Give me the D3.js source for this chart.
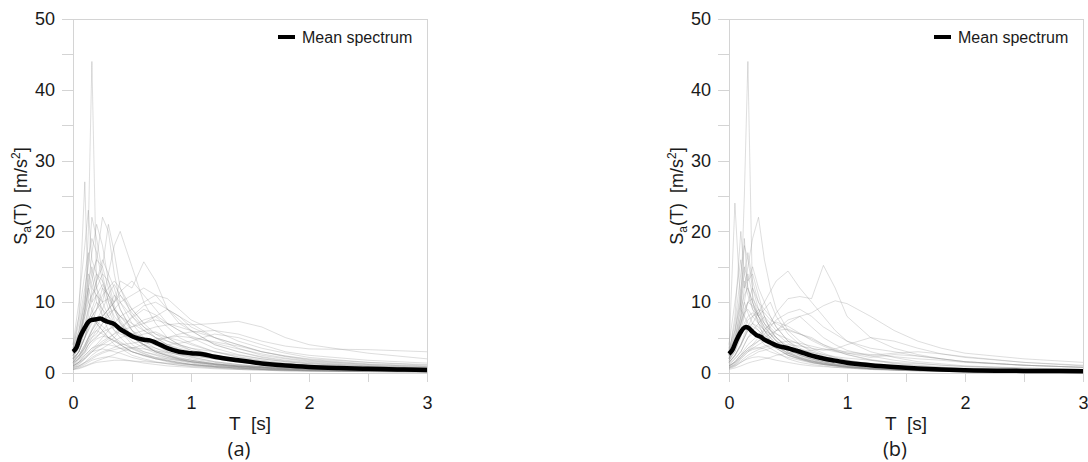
<!DOCTYPE html>
<html>
<head>
<meta charset="utf-8">
<script src="https://cdn.jsdelivr.net/npm/d3@7"></script>
<style>
  body { margin: 0; background: #fff; }
  svg text { font-family: "Liberation Sans", Arial, sans-serif; fill: #1a1a1a; }
  .axis path, .axis line { stroke: #d4d4d4; shape-rendering: crispEdges; }
  .frame { stroke: #d4d4d4; shape-rendering: crispEdges; }
  .record { fill: none; stroke: #8a8a8a; stroke-width: 0.7; stroke-opacity: 0.4; }
  .mean { fill: none; stroke: #000; stroke-width: 4.5; stroke-linejoin: round; }
  .caption { font-family: "Open Sans", sans-serif; }
</style>
</head>
<body>
<div id="chart"></div>
<script>
var PERIODS = [0, 0.05, 0.1, 0.13, 0.16, 0.2, 0.25, 0.3, 0.35, 0.4, 0.5, 0.6, 0.7, 0.8, 0.9, 1.0, 1.2, 1.4, 1.6, 1.8, 2.0, 2.5, 3.0];

var Y_TICKS = [0, 10, 20, 30, 40, 50];
var X_TICKS = [0, 1, 2, 3];

// Panel (a) records, Sa in m/s2
var RECORDS_A = [
  [2.5, 4, 9, 20, 44, 12, 8, 6, 5, 4, 3, 2.5, 2, 1.6, 1.3, 1.1, 0.8, 0.6, 0.5, 0.4, 0.35, 0.25, 0.2],
  [3, 8, 27, 10, 9, 7, 6, 5, 4.5, 4, 3, 2.5, 2, 1.8, 1.5, 1.2, 0.9, 0.7, 0.5, 0.4, 0.3, 0.2, 0.15],
  [4, 10, 18, 23, 16, 14, 12, 9, 7, 6, 4, 3, 2.5, 2, 1.7, 1.4, 1, 0.8, 0.6, 0.5, 0.4, 0.3, 0.2],
  [3.5, 7, 12, 15, 22, 19, 14, 10, 8, 7, 5, 4, 3, 2.5, 2, 1.8, 1.3, 1, 0.8, 0.6, 0.5, 0.35, 0.3],
  [2, 4, 8, 11, 13, 16, 22, 20, 14, 10, 7, 5, 4, 3, 2.6, 2.2, 1.6, 1.2, 0.9, 0.7, 0.6, 0.4, 0.3],
  [3, 5, 9, 12, 10, 13, 15, 21, 17, 12, 8, 6, 5, 4, 3.5, 3, 2.2, 1.6, 1.2, 1, 0.8, 0.6, 0.4],
  [1.5, 3, 5, 7, 9, 11, 10, 14, 18, 20, 15, 10, 7, 5, 4, 3.5, 2.5, 2, 1.5, 1.2, 1, 0.7, 0.5],
  [2, 3, 5, 6, 8, 9, 12, 11, 10, 13, 12, 15.7, 13, 9, 7, 6, 4, 3, 2.2, 1.7, 1.4, 1, 0.7],
  [1.2, 2, 3, 4, 5, 6, 7, 8, 9, 10, 11, 12, 11, 9, 8, 7, 5, 4, 3, 2.3, 1.8, 1.2, 0.9],
  [1, 1.5, 2.5, 3, 3.5, 4, 5, 6, 7, 8, 9, 10, 11, 10.5, 9, 7.5, 6, 4.5, 3.5, 2.8, 2.2, 1.5, 1.1],
  [0.8, 1, 1.5, 2, 2.5, 3, 3.5, 4, 4.5, 5, 5.5, 6, 6.5, 6.8, 7, 6.8, 7, 7.3, 6.5, 5, 4, 2.8, 2],
  [0.5, 0.7, 1, 1.2, 1.4, 1.7, 2, 2.3, 2.6, 3, 3.5, 4, 4.5, 5, 5.5, 5.8, 6, 5.5, 4.5, 3.8, 3.4, 3.3, 3.0],
  [2.5, 4, 7, 9, 10, 11, 9, 8, 7, 6, 5, 4, 3.5, 3, 2.5, 2, 1.5, 1.1, 0.9, 0.7, 0.6, 0.4, 0.3],
  [2, 3, 6, 8, 12, 14, 13, 11, 9, 8, 6, 4.5, 3.5, 2.8, 2.2, 1.8, 1.3, 1, 0.8, 0.6, 0.5, 0.35, 0.25],
  [1.8, 2.5, 4, 5, 6, 7, 8, 9, 10, 11, 9, 7, 8, 9, 7.5, 6, 4, 3, 2.3, 1.8, 1.5, 1, 0.7],
  [1.5, 2, 3, 4, 4.5, 5, 6, 7, 6.5, 6, 5.5, 5, 4.5, 4, 4.2, 4.5, 5.5, 5, 4, 3, 2.5, 1.8, 1.4],
  [1, 1.5, 2, 2.5, 3, 3.5, 4, 4.5, 5, 6, 8, 9.5, 10, 9, 8, 6.5, 5, 3.5, 2.5, 2, 1.6, 1.1, 0.8],
  [3, 6, 10, 13, 15, 12, 10, 8, 6, 5, 3.5, 2.8, 2.2, 1.8, 1.5, 1.2, 0.9, 0.7, 0.5, 0.4, 0.35, 0.25, 0.2],
  [2, 3, 5, 7, 8, 7, 6, 5, 4, 3.5, 2.5, 2, 1.6, 1.3, 1.1, 0.9, 0.7, 0.5, 0.4, 0.3, 0.25, 0.2, 0.15],
  [1.5, 2.5, 4, 5, 5.5, 6, 5.5, 5, 4.5, 4, 3, 2.4, 2, 1.7, 1.4, 1.2, 0.9, 0.7, 0.5, 0.4, 0.35, 0.25, 0.2],
  [1, 1.5, 2.5, 3, 3.5, 3.8, 4, 4, 3.8, 3.5, 3, 2.5, 2.2, 2, 1.8, 1.6, 1.3, 1, 0.8, 0.6, 0.5, 0.4, 0.3],
  [0.8, 1.2, 2, 2.5, 3, 3.2, 3.4, 3.2, 3, 2.8, 2.2, 1.8, 1.5, 1.3, 1.1, 1, 0.8, 0.6, 0.5, 0.4, 0.3, 0.2, 0.15],
  [0.5, 0.8, 1.2, 1.5, 1.8, 2, 2.2, 2.3, 2.2, 2, 1.7, 1.4, 1.2, 1, 0.9, 0.8, 0.6, 0.5, 0.4, 0.3, 0.25, 0.2, 0.15],
  [3.5, 6, 11, 16, 19, 17, 13, 10, 7.5, 6, 4.5, 3.5, 2.8, 2.2, 1.8, 1.5, 1.1, 0.8, 0.6, 0.5, 0.4, 0.3, 0.2],
  [2.5, 4, 6, 9, 11, 13, 16, 14, 12, 9, 6, 5, 4.5, 3.5, 2.8, 2.3, 1.6, 1.2, 0.9, 0.7, 0.6, 0.4, 0.3],
  [2, 3, 5, 6, 7, 9, 11, 12, 13, 12, 9, 7, 5.5, 4.5, 3.8, 3.2, 2.5, 2, 1.5, 1.2, 1, 0.7, 0.5],
  [1.5, 2.5, 3.5, 4.5, 5.5, 6.5, 8, 9, 10, 11.5, 13, 11, 9, 7, 6, 5, 3.5, 2.6, 2, 1.6, 1.3, 0.9, 0.7],
  [1, 1.5, 2.2, 2.8, 3.2, 3.8, 4.5, 5, 5.5, 6, 6.5, 7, 7.5, 7, 6.5, 6, 5, 4, 3, 2.4, 1.9, 1.3, 1],
  [0.7, 1, 1.5, 1.8, 2.2, 2.6, 3, 3.3, 3.6, 4, 4.2, 4.5, 4.8, 5, 5.2, 5, 4.4, 3.8, 3, 2.4, 2, 1.5, 1.2],
  [4, 8, 14, 17, 14, 16, 15, 12, 9, 7, 5, 4, 3, 2.5, 2, 1.6, 1.2, 0.9, 0.7, 0.5, 0.4, 0.3, 0.2],
  [2.8, 5, 9, 12, 14, 10, 8, 9, 11, 9, 6, 4, 3, 2.4, 2, 1.6, 1.2, 0.9, 0.7, 0.5, 0.45, 0.3, 0.25],
  [1.2, 2, 3.5, 4.5, 5, 5.5, 7, 8.5, 9, 8, 6.5, 7.5, 8, 6.5, 5, 4.2, 3, 2.2, 1.7, 1.3, 1.1, 0.8, 0.6],
  [0.5, 0.6, 0.9, 1.1, 1.3, 1.5, 1.6, 1.7, 1.8, 1.8, 1.7, 1.6, 1.5, 1.4, 1.3, 1.2, 1, 0.9, 0.8, 0.7, 0.6, 0.5, 0.4],
  [2.2, 3.5, 6, 7.5, 8.5, 10, 9, 7, 6, 5.5, 5, 5.5, 5.8, 5, 4, 3.2, 2.3, 1.7, 1.3, 1, 0.8, 0.6, 0.4],
  [1.8, 3, 5, 6.5, 8, 9, 10, 10.5, 9, 8, 7, 6, 5, 4.5, 4, 3.5, 3, 2.5, 2, 1.6, 1.3, 0.9, 0.7],
  [3, 5, 8, 10, 11, 12, 14, 13, 11, 10, 8, 6.5, 5, 4, 3.3, 2.7, 2, 1.5, 1.2, 0.9, 0.7, 0.5, 0.4],
  [1.6, 2.4, 3.6, 4.8, 6, 7.2, 6.6, 5.8, 5, 4.4, 3.4, 2.7, 2.1, 1.7, 1.4, 1.2, 0.9, 0.7, 0.55, 0.45, 0.38, 0.28, 0.22],
  [1.1, 1.7, 2.8, 3.5, 4.2, 4.8, 5.2, 5, 4.6, 4.2, 3.6, 3, 2.6, 2.2, 1.9, 1.6, 1.2, 0.9, 0.7, 0.55, 0.45, 0.32, 0.25],
  [2.4, 4.5, 8.5, 12, 17, 21, 18, 13, 9.5, 7.5, 5.2, 3.8, 3, 2.4, 1.9, 1.6, 1.2, 0.9, 0.7, 0.55, 0.45, 0.3, 0.25],
  [0.9, 1.3, 2, 2.6, 3, 3.6, 4.2, 4.8, 5.6, 6.4, 7.8, 9, 8.2, 7, 6, 5.2, 4.2, 3.4, 2.7, 2.1, 1.7, 1.2, 0.9],
  [1.4, 2, 3.2, 4, 4.6, 5.2, 5.8, 6.2, 6.5, 6.4, 5.6, 4.6, 3.9, 3.3, 2.8, 2.5, 2, 1.6, 1.3, 1, 0.85, 0.6, 0.45],
  [0.6, 0.9, 1.4, 1.7, 2, 2.4, 2.8, 3.1, 3.3, 3.5, 3.6, 3.4, 3.1, 2.9, 2.6, 2.4, 2, 1.7, 1.4, 1.2, 1, 0.75, 0.6],
  [2.9, 5.5, 10, 14, 12, 11, 12.5, 11, 9, 7.2, 5.2, 4, 3.2, 2.6, 2.1, 1.8, 1.3, 1, 0.8, 0.6, 0.5, 0.35, 0.3],
  [1.3, 2.2, 3.8, 5, 6.2, 7.5, 9, 11, 12.5, 11, 8.5, 6.5, 5.5, 5, 4.6, 4, 3, 2.3, 1.8, 1.4, 1.1, 0.8, 0.6]
];

// Panel (b) records, Sa in m/s2
var RECORDS_B = [
  [2, 4, 10, 25, 44, 10, 7, 5, 4, 3.5, 2.5, 2, 1.5, 1.2, 1, 0.8, 0.6, 0.4, 0.3, 0.25, 0.2, 0.15, 0.1],
  [3, 24, 9, 8, 7, 6, 5, 4, 3.5, 3, 2, 1.5, 1.2, 1, 0.8, 0.7, 0.5, 0.4, 0.3, 0.25, 0.2, 0.15, 0.1],
  [2.5, 4, 8, 12, 15, 19, 22, 16, 12, 9, 6, 4.5, 3.5, 2.8, 2.2, 1.8, 1.3, 1, 0.8, 0.6, 0.5, 0.35, 0.25],
  [1.5, 2.5, 4, 5, 6, 7, 8.5, 10, 11.5, 13, 14.4, 12, 10, 8, 6, 4.5, 3, 2.2, 1.6, 1.3, 1, 0.7, 0.5],
  [1, 1.5, 2.5, 3, 3.5, 4, 5, 6, 7, 8.5, 10.5, 10.8, 10.5, 15.2, 12, 8, 5, 3.5, 2.6, 2, 1.6, 1.1, 0.8],
  [0.8, 1.2, 2, 2.5, 3, 3.5, 4, 4.5, 5, 6, 7, 8, 8.5, 9.5, 10.2, 9.8, 8, 6, 4.5, 3.5, 2.8, 2, 1.5],
  [0.6, 0.9, 1.5, 1.8, 2.2, 2.5, 3, 3.2, 3.5, 3.8, 4, 3.8, 3.5, 3.2, 3.4, 4, 5, 4.5, 3.5, 2.7, 2.2, 1.5, 1.1],
  [3, 7, 14, 18, 16, 12, 9, 7, 5.5, 4.5, 3, 2.2, 1.7, 1.3, 1.1, 0.9, 0.6, 0.5, 0.35, 0.3, 0.25, 0.2, 0.15],
  [2.5, 6, 12, 15, 13, 14, 11, 8, 6, 5, 3.5, 2.6, 2, 1.6, 1.3, 1.1, 0.8, 0.6, 0.45, 0.35, 0.3, 0.2, 0.15],
  [2, 5, 9, 11, 12, 10, 8, 7, 6, 5, 3.5, 2.8, 2.2, 1.8, 1.5, 1.2, 0.9, 0.7, 0.5, 0.4, 0.3, 0.2, 0.15],
  [2.2, 4, 7, 9, 10, 9.5, 8, 6.5, 5.5, 4.5, 3.2, 2.5, 2, 1.6, 1.3, 1.1, 0.8, 0.6, 0.45, 0.35, 0.3, 0.2, 0.15],
  [1.8, 3, 5.5, 7, 8, 8.5, 7.5, 6, 5, 4.2, 3, 2.3, 1.8, 1.4, 1.2, 1, 0.7, 0.5, 0.4, 0.3, 0.25, 0.15, 0.1],
  [1.5, 2.5, 4, 5.5, 6.5, 7, 6.5, 5.5, 4.5, 3.8, 2.8, 2.2, 1.7, 1.4, 1.1, 0.9, 0.7, 0.5, 0.4, 0.3, 0.25, 0.15, 0.1],
  [1.2, 2, 3, 4, 5, 5.5, 5, 4.5, 4, 3.5, 2.5, 2, 1.6, 1.3, 1.1, 0.9, 0.6, 0.5, 0.35, 0.3, 0.2, 0.15, 0.1],
  [1, 1.5, 2.2, 2.8, 3.2, 3.5, 3.6, 3.4, 3, 2.7, 2.2, 1.8, 1.4, 1.2, 1, 0.8, 0.6, 0.45, 0.35, 0.3, 0.2, 0.15, 0.1],
  [0.7, 1, 1.5, 1.8, 2, 2.2, 2.3, 2.2, 2, 1.8, 1.5, 1.2, 1, 0.9, 0.8, 0.7, 0.5, 0.4, 0.3, 0.25, 0.2, 0.15, 0.1],
  [3.5, 6, 10, 13, 11, 9, 8, 9, 8, 6.5, 4.5, 3.2, 2.5, 2, 1.6, 1.3, 0.9, 0.7, 0.5, 0.4, 0.3, 0.2, 0.15],
  [2, 3.5, 6, 8, 10, 12, 10, 9, 10, 8, 5.5, 4, 3, 2.4, 1.9, 1.5, 1.1, 0.8, 0.6, 0.5, 0.4, 0.25, 0.2],
  [1.5, 2.5, 4, 5, 6.5, 8, 9, 8.5, 7.5, 7, 6, 5.5, 5, 4, 3.2, 2.6, 1.8, 1.3, 1, 0.8, 0.6, 0.4, 0.3],
  [1.2, 2, 3, 4, 5, 6, 7, 8, 7, 6, 7.5, 8, 6.5, 5, 4, 3.2, 2.4, 1.8, 1.4, 1.1, 0.9, 0.6, 0.4],
  [1, 1.6, 2.5, 3, 3.5, 4, 4.5, 5, 5.5, 6, 6.2, 5.5, 4.8, 4, 3.4, 2.8, 2.2, 2.6, 2.4, 2, 1.6, 1.1, 0.8],
  [0.8, 1.2, 2, 2.5, 3, 3.3, 3.5, 3.8, 4, 4.2, 4.5, 4.2, 3.8, 3.4, 3, 2.8, 2.5, 2.8, 3, 2.7, 2.3, 1.5, 1],
  [4, 10, 16, 12, 14, 11, 8, 6, 4.5, 3.8, 2.6, 2, 1.5, 1.2, 1, 0.8, 0.6, 0.45, 0.35, 0.3, 0.25, 0.2, 0.15],
  [2.5, 8, 20, 14, 12, 9, 7, 6, 5, 4, 2.8, 2.1, 1.6, 1.3, 1.1, 0.9, 0.6, 0.5, 0.35, 0.3, 0.25, 0.15, 0.1],
  [2, 4, 7, 10, 13, 15, 12, 10, 8, 6.5, 4.5, 3.5, 2.8, 2.2, 1.8, 1.5, 1.1, 0.8, 0.6, 0.5, 0.4, 0.25, 0.2],
  [1.8, 3, 5, 6.5, 7.5, 8, 8.5, 7, 6, 5.5, 4.8, 4, 3.2, 2.6, 2.1, 1.8, 1.3, 1, 0.8, 0.6, 0.5, 0.35, 0.25],
  [0.9, 1.4, 2.2, 2.8, 3.2, 3.8, 4.5, 5.5, 6.5, 7.5, 8.5, 9, 8, 6.5, 5.5, 4.5, 3.5, 3, 2.4, 2, 1.6, 1.1, 0.8],
  [2.6, 4.5, 7, 8.5, 9, 8, 7, 6, 5.5, 5, 3.8, 3, 2.4, 2, 1.7, 1.4, 1, 0.8, 0.6, 0.45, 0.35, 0.25, 0.2],
  [0.5, 0.7, 1, 1.2, 1.4, 1.6, 1.8, 2, 2.2, 2.5, 2.8, 3, 3.2, 3.4, 3.2, 3, 2.6, 2.3, 2, 1.8, 1.5, 1.1, 0.8],
  [3, 5, 8, 10, 8.5, 7, 6, 5, 4, 3.5, 2.5, 1.9, 1.5, 1.2, 1, 0.8, 0.6, 0.45, 0.35, 0.3, 0.25, 0.15, 0.1],
  [1.4, 2.4, 3.8, 5, 6, 6.6, 6, 5.2, 4.4, 3.8, 2.8, 2.1, 1.7, 1.4, 1.1, 0.9, 0.65, 0.5, 0.4, 0.3, 0.25, 0.18, 0.12],
  [2.8, 5.5, 11, 14, 17, 13, 10, 8, 6.2, 5, 3.4, 2.5, 1.9, 1.5, 1.2, 1, 0.7, 0.5, 0.4, 0.32, 0.26, 0.18, 0.12],
  [1, 1.6, 2.6, 3.3, 4, 4.6, 5.4, 6.2, 6.8, 7.2, 6.6, 5.6, 4.6, 3.8, 3.1, 2.6, 1.9, 1.4, 1.1, 0.85, 0.7, 0.45, 0.35],
  [0.7, 1.1, 1.7, 2.1, 2.5, 2.9, 3.3, 3.6, 3.8, 3.9, 3.7, 3.3, 2.9, 2.6, 2.3, 2.1, 1.8, 1.5, 1.3, 1.1, 0.95, 0.7, 0.5],
  [2.1, 3.8, 6.5, 8.5, 10, 10.5, 9, 7.5, 6.4, 5.6, 4.2, 3.2, 2.5, 2, 1.6, 1.3, 0.95, 0.7, 0.55, 0.42, 0.34, 0.22, 0.16],
  [1.6, 3.6, 7.8, 19, 12, 10, 8, 6.5, 5.4, 4.6, 3.3, 2.5, 2, 1.6, 1.3, 1.1, 0.8, 0.6, 0.45, 0.35, 0.28, 0.2, 0.14]
];

// Mean spectra
var MEAN_PERIODS_A = [0, 0.03, 0.06, 0.1, 0.13, 0.16, 0.2, 0.23, 0.27, 0.3, 0.35, 0.4, 0.45, 0.5, 0.55, 0.6, 0.65, 0.7, 0.8, 0.9, 1.0, 1.1, 1.2, 1.4, 1.6, 1.8, 2.0, 2.25, 2.5, 2.75, 3.0];
var MEAN_A = [3.0, 3.6, 5.1, 6.4, 7.2, 7.5, 7.6, 7.7, 7.4, 7.2, 6.9, 6.2, 5.7, 5.2, 4.9, 4.7, 4.6, 4.3, 3.5, 3.0, 2.8, 2.65, 2.3, 1.8, 1.35, 1.05, 0.85, 0.7, 0.6, 0.5, 0.42];

var MEAN_PERIODS_B = [0, 0.03, 0.06, 0.1, 0.13, 0.15, 0.17, 0.2, 0.23, 0.27, 0.3, 0.35, 0.4, 0.5, 0.6, 0.7, 0.8, 0.9, 1.0, 1.2, 1.4, 1.6, 1.8, 2.0, 2.5, 3.0];
var MEAN_B = [2.7, 3.3, 4.5, 5.8, 6.4, 6.5, 6.3, 5.8, 5.4, 5.1, 4.7, 4.3, 3.9, 3.5, 3.0, 2.45, 2.05, 1.75, 1.45, 1.1, 0.85, 0.65, 0.5, 0.4, 0.3, 0.25];

var WIDTH = 1088;
var HEIGHT = 462;

var svg = d3.select("#chart")
  .append("svg")
  .attr("width", WIDTH)
  .attr("height", HEIGHT);

// Render one spectrum panel.
var renderPanel = function(config) {
  var size = 354;
  var top = 19;

  var xScale = d3.scaleLinear().domain([0, 3]).range([0, size]);
  var yScale = d3.scaleLinear().domain([0, 50]).range([size, 0]);

  var g = svg.append("g")
    .attr("transform", `translate(${config.left},${top})`);

  // Frame (top and right)
  g.append("line").attr("class", "frame")
    .attr("x1", 0).attr("x2", size).attr("y1", 0).attr("y2", 0);
  g.append("line").attr("class", "frame")
    .attr("x1", size).attr("x2", size).attr("y1", 0).attr("y2", size);

  // Axes: minor ticks every 5 (y) and 0.5 (x), labels on majors
  var yAxis = d3.axisLeft(yScale)
    .tickValues(d3.range(0, 51, 5))
    .tickSize(11)
    .tickSizeOuter(0)
    .tickPadding(7)
    .tickFormat(d => Y_TICKS.indexOf(d) >= 0 ? d : "");

  var xAxis = d3.axisBottom(xScale)
    .tickValues(d3.range(0, 3.01, 0.5))
    .tickSize(9)
    .tickSizeOuter(0)
    .tickPadding(14)
    .tickFormat(d => X_TICKS.indexOf(d) >= 0 ? d : "");

  g.append("g").attr("class", "y axis").call(yAxis);
  g.append("g").attr("class", "x axis")
    .attr("transform", `translate(0,${size})`)
    .call(xAxis);

  g.selectAll(".axis text")
    .style("font-size", "18px")
    .attr("fill", "#1a1a1a");

  // Records
  var line = d3.line()
    .x((d, i) => xScale(PERIODS[i]))
    .y(d => yScale(d));

  g.append("g")
    .selectAll("path")
    .data(config.records)
    .enter()
    .append("path")
    .attr("class", "record")
    .attr("d", d => line(d));

  // Mean spectrum
  var meanLine = d3.line()
    .curve(d3.curveMonotoneX)
    .x((d, i) => xScale(config.meanPeriods[i]))
    .y(d => yScale(d));

  g.append("path")
    .attr("class", "mean")
    .attr("d", meanLine(config.mean));

  // Legend
  g.append("line")
    .attr("x1", 205).attr("x2", 222)
    .attr("y1", 18).attr("y2", 18)
    .attr("stroke", "#000")
    .attr("stroke-width", 4);
  g.append("text")
    .attr("x", 229).attr("y", 24)
    .style("font-size", "16px")
    .text("Mean spectrum");

  // Axis titles
  var yTitle = g.append("text")
    .attr("transform", `translate(-46,${size / 2}) rotate(-90)`)
    .attr("text-anchor", "middle")
    .style("font-size", "18px");
  yTitle.append("tspan").text("S");
  yTitle.append("tspan").attr("dy", 4).style("font-size", "12px").text("a");
  yTitle.append("tspan").attr("dy", -4).text("(T)\u00a0\u00a0[m/s");
  yTitle.append("tspan").attr("dy", -7).style("font-size", "12px").text("2");
  yTitle.append("tspan").attr("dy", 7).text("]");

  g.append("text")
    .attr("x", size / 2)
    .attr("y", 411)
    .attr("text-anchor", "middle")
    .style("font-size", "19px")
    .text("T\u00a0\u00a0[s]");

  g.append("text")
    .attr("class", "caption")
    .attr("x", size / 2 + config.captionShift)
    .attr("y", 437)
    .attr("text-anchor", "middle")
    .style("font-size", "20px")
    .text(config.caption);
};

renderPanel({ left: 73, records: RECORDS_A, meanPeriods: MEAN_PERIODS_A, mean: MEAN_A, caption: "(a)", captionShift: -11 });
renderPanel({ left: 729, records: RECORDS_B, meanPeriods: MEAN_PERIODS_B, mean: MEAN_B, caption: "(b)", captionShift: -11 });
</script>
</body>
</html>
